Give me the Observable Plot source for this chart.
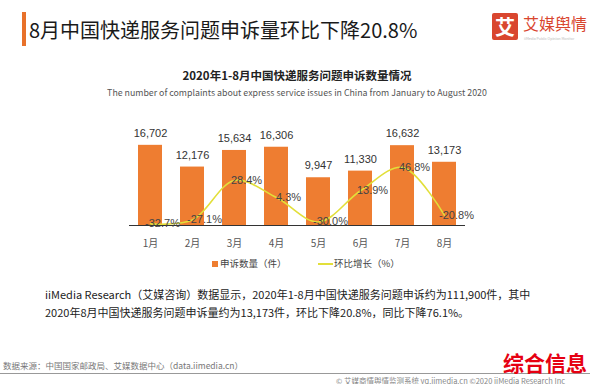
<!DOCTYPE html>
<html><head><meta charset="utf-8">
<script src="https://cdn.jsdelivr.net/npm/d3@7"></script>
<script src="https://cdn.jsdelivr.net/npm/@observablehq/plot@0.6"></script>
<style>
body{margin:0;background:#fff;font-family:"Noto Sans CJK SC","Noto Sans",sans-serif;}
#wrap{position:relative;width:594px;height:384px;overflow:hidden;background:#fff}
.abs{position:absolute;white-space:nowrap;line-height:1}
#chart{position:absolute;left:0;top:100px}
</style></head><body><div id="wrap">
<div class="abs" style="left:22px;top:12px;width:4px;height:34px;background:#e8712a"></div>
<div class="abs" style="left:29px;top:20px;font-size:20px;color:#1a1a1a">8月中国快递服务问题申诉量环比下降20.8%</div>
<div class="abs" style="left:492px;top:13px;width:26px;height:27px;background:#d9462f;border-radius:2px;color:#fff;font-size:20px;font-weight:bold;text-align:center;line-height:27px">艾</div>
<div class="abs" style="left:523px;top:15px;font-size:16px;color:#d9462f">艾媒舆情</div>
<div class="abs" style="left:524px;top:37px;font-size:3.5px;color:#bbb">iiMedia Public Opinion Monitor</div>
<div class="abs" style="left:0;width:594px;text-align:center;top:70px;font-size:11.5px;font-weight:bold;color:#222">2020年1-8月中国快递服务问题申诉数量情况</div>
<div class="abs" style="left:0;width:594px;text-align:center;top:88.5px;font-size:8.8px;color:#555">The number of complaints about express service issues in China from January to August 2020</div>
<div id="chart"></div>
<div class="abs" style="left:212px;top:261px;width:6px;height:6px;background:#ee7d31"></div>
<div class="abs" style="left:220px;top:259px;font-size:9.5px;color:#444">申诉数量（件）</div>
<div class="abs" style="left:318px;top:263px;width:15px;height:2px;background:#e2df3a"></div>
<div class="abs" style="left:334px;top:259px;font-size:9.5px;color:#444">环比增长（%）</div>
<div class="abs" style="left:45px;top:288.5px;font-size:11px;color:#222">iiMedia Research（艾媒咨询）数据显示，2020年1-8月中国快递服务问题申诉约为111,900件，其中</div>
<div class="abs" style="left:45px;top:306.5px;font-size:11px;color:#222">2020年8月中国快递服务问题申诉量约为13,173件，环比下降20.8%，同比下降76.1%。</div>
<div class="abs" style="left:3px;top:361px;font-size:8.5px;color:#777">数据来源：中国国家邮政局、艾媒数据中心（data.iimedia.cn）</div>
<div class="abs" style="left:0;top:373px;width:590px;height:1px;background:#999"></div>
<div class="abs" style="left:503px;top:351.5px;font-size:21px;font-weight:bold;color:#e60012">综合信息</div>
<div class="abs" style="left:336px;top:376.5px;font-size:7.5px;color:#888">© 艾媒商情舆情监测系统 yq.iimedia.cn  ©2020  iiMedia Research  Inc</div>
</div>
<script>
const months = ["1月","2月","3月","4月","5月","6月","7月","8月"];
const complaints = [16702,12176,15634,16306,9947,11330,16632,13173];
const growth = [-32.7,-27.1,28.4,4.3,-30.0,13.9,46.8,-20.8];

const data = months.map((m,i)=>({month:m, count:complaints[i], pct:growth[i]}));
// secondary (percent) axis mapped onto the count scale
const toY = p => (p + 35) * 148;
const chart = Plot.plot({
  width:594, height:155, marginLeft:129, marginRight:129, marginTop:29, marginBottom:30,
  style:{fontFamily:"Noto Sans CJK SC, sans-serif", fontSize:"10px", color:"#555", background:"transparent"},
  x:{domain:months, paddingInner:0.43, paddingOuter:0.21, label:null, tickSize:0, tickPadding:14},
  y:{domain:[0,20000], axis:null},
  marks:[
    Plot.barY(data,{x:"month", y:"count", fill:"#ee7d31"}),
    Plot.ruleY([0],{stroke:"#333", strokeWidth:1.2}),
    Plot.line(data,{x:"month", y:d=>toY(d.pct), stroke:"#e2df3a", strokeWidth:1.6, curve:"catmull-rom"}),
    Plot.text(data,{x:"month", y:"count", text:d=>d3.format(",")(d.count), dy:-12, fontSize:11, fill:"#333", fontFamily:"Liberation Sans, Arial, sans-serif"}),
    Plot.text(data,{x:"month", y:d=>toY(d.pct), text:d=>d.pct.toFixed(1)+"%", dx:12, fontSize:11, fill:"#444", fontFamily:"Liberation Sans, Arial, sans-serif"})
  ]
});
document.getElementById("chart").appendChild(chart);
</script>
</body></html>
